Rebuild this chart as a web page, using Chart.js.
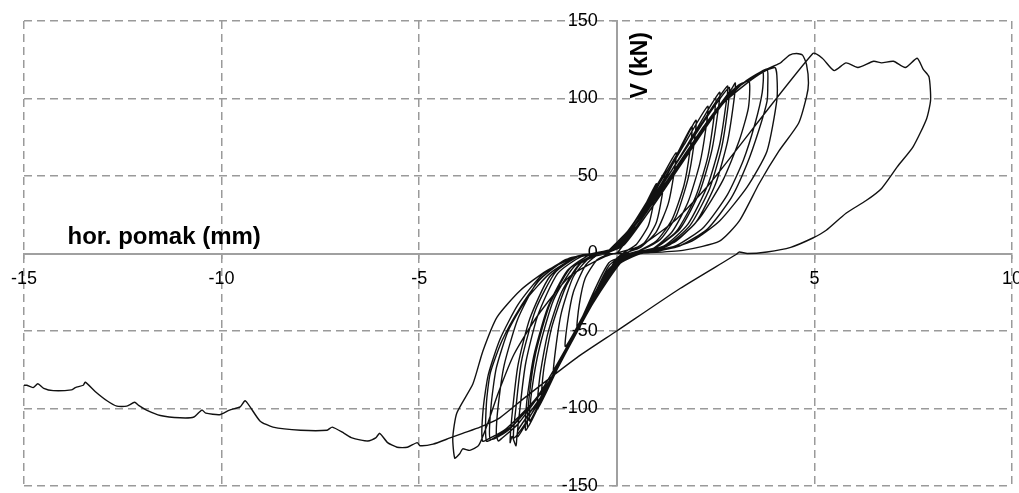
<!DOCTYPE html>
<html>
<head>
<meta charset="utf-8">
<script src="https://cdn.jsdelivr.net/npm/chart.js@4.4.1/dist/chart.umd.min.js"></script>
<style>
  html, body { margin: 0; padding: 0; background: #fff; }
  #wrap { width: 1019px; height: 493px; position: relative; }
</style>
</head>
<body>
<div id="wrap"><canvas id="hist"></canvas></div>
<script>
// hor. pomak (mm) / V (kN) pairs, in loading order
const cyclesSmall = [
  [0,0],[0.3,10],[0.6,25],[1.0,45],[0.95,35],[0.8,18],[0.5,6],[0.2,1],[0,-3],[-0.4,-20],[-0.8,-38],[-1.3,-60],[-1.25,-45],[-1.1,-25],[-0.8,-8],[-0.5,-1],
  [0.1,5],[0.5,20],[0.9,37],[1.2,50],[1.15,38],[1.0,20],[0.7,7],[0.3,1],[0,-4],[-0.5,-24],[-1.0,-48],[-0.95,-33],[-0.8,-16],[-0.5,-4],[-0.2,0],
  [-0.2,2],[0.3,15],[0.8,35],[1.2,52],[1.5,65],[1.45,52],[1.3,32],[1.0,14],[0.6,4],[0.2,0],[-0.2,-8],[-0.6,-28],[-1.1,-52],[-1.6,-78],[-1.55,-62],[-1.4,-38],[-1.1,-15],[-0.7,-3],[-0.3,0],
  [0,5],[0.5,22],[1.0,42],[1.5,63],[1.9,82],[1.85,66],[1.7,44],[1.4,22],[1.0,8],[0.5,1],[0.1,-3],[-0.4,-20],[-0.9,-43],[-1.4,-68],[-1.9,-95],[-1.85,-75],[-1.65,-48],[-1.3,-22],[-0.9,-6],[-0.4,0],
  [0.1,6],[0.7,28],[1.3,52],[2.0,86],[1.95,70],[1.8,48],[1.5,24],[1.1,9],[0.6,2],[0.1,-2],[-0.5,-25],[-1.2,-58],[-2.0,-100],[-1.95,-80],[-1.75,-52],[-1.4,-25],[-0.95,-7],[-0.5,-1],
  [0.1,6],[0.6,24],[1.1,44],[1.7,70],[2.3,95],[2.25,80],[2.1,58],[1.8,33],[1.4,14],[0.9,3],[0.3,-1],[-0.2,-10],[-0.8,-38],[-1.5,-72],[-2.2,-108],[-2.15,-88],[-1.95,-60],[-1.6,-30],[-1.1,-9],[-0.6,-1],
  [0,4],[0.7,27],[1.5,58],[2.2,88],[2.5,100],[2.45,86],[2.3,62],[2.0,37],[1.5,14],[0.9,3],[0.3,-1],[-0.3,-14],[-1.0,-48],[-1.7,-84],[-2.3,-114],[-2.28,-96],[-2.1,-66],[-1.75,-35],[-1.25,-11],[-0.7,-1],
  [-0.1,2],[0.5,20],[1.2,46],[1.9,75],[2.6,104],[2.55,90],[2.4,66],[2.1,40],[1.6,16],[1.0,4],[0.4,0],[-0.2,-12],[-0.9,-44],[-1.6,-78],[-2.25,-112],[-2.22,-93],[-2.05,-64],[-1.7,-33],[-1.2,-10],[-0.7,-1]
];
const cyclesMedium = [
  [0,4],[0.6,24],[1.3,50],[2.1,82],[2.8,108],[2.75,94],[2.6,70],[2.3,44],[1.8,19],[1.2,5],[0.5,0],[-0.1,-10],[-0.8,-40],[-1.7,-82],[-2.5,-118],[-2.45,-100],[-2.3,-70],[-2.0,-40],[-1.5,-13],[-0.9,-2],
  [-0.1,3],[0.6,26],[1.4,54],[2.2,85],[2.7,103],[2.85,107],[2.8,92],[2.65,68],[2.35,42],[1.85,18],[1.2,4],[0.5,0],[-0.2,-12],[-1.0,-50],[-1.9,-93],[-2.6,-119],[-2.55,-99],[-2.4,-68],[-2.05,-36],[-1.55,-12],[-0.9,-1],
  [-0.2,1],[0.5,20],[1.3,48],[2.2,82],[2.9,106],[3.0,110],[2.95,96],[2.8,72],[2.5,45],[2.0,20],[1.3,5],[0.6,0],[0,-8],[-0.8,-40],[-1.8,-88],[-2.5,-114],[-2.55,-124],[-2.65,-118],[-2.7,-122],[-2.65,-104],[-2.5,-72],[-2.2,-42],[-1.7,-15],[-1.0,-2],
  [-0.3,0],[0.4,16],[1.2,44],[2.1,78],[2.8,102],[3.1,109],[3.35,111],[3.33,94],[3.1,73],[2.68,47],[2.1,23],[1.5,8],[0.8,1],[0.2,-3],[-0.6,-32],[-1.6,-78],[-2.5,-110],[-2.9,-119],[-3.0,-121],[-3.05,-116],[-3.0,-98],[-2.85,-72],[-2.5,-42],[-2.0,-18],[-1.3,-4],[-0.6,0]
];
const cyclesLarge = [
  [0.1,5],[0.9,32],[1.8,65],[2.6,95],[3.1,108],[3.5,115],[3.7,117],[3.68,104],[3.5,84],[3.2,60],[2.8,38],[2.2,17],[1.5,5],[0.8,1],[0.1,-3],[-0.8,-40],[-1.8,-86],[-2.7,-113],[-3.2,-120],[-3.18,-98],[-3.05,-74],[-2.75,-50],[-2.3,-30],[-1.7,-13],[-1.0,-2],[-0.4,0],
  [0,4],[0.8,30],[1.7,62],[2.5,92],[3.0,106],[3.4,113],[3.8,119],[3.82,108],[3.8,98],[3.6,80],[3.3,58],[2.9,36],[2.3,16],[1.6,5],[0.9,1],[0.2,-2],[-0.7,-36],[-1.7,-82],[-2.6,-110],[-3.1,-119],[-3.3,-121],[-3.3,-97],[-3.2,-77],[-2.9,-56],[-2.45,-35],[-1.95,-17],[-1.44,-6.5],[-0.93,-1.3],[-0.3,0],
  [0.2,6],[1.0,34],[1.9,68],[2.7,97],[3.3,110],[3.7,117],[4.0,120],[4.05,115],[4.05,99],[3.8,66],[3.3,43],[2.6,21],[1.9,8],[1.26,3],[0.5,0],[-0.2,-6],[-1.0,-48],[-2.0,-92],[-2.8,-113],[-3.2,-119],[-3.4,-121],[-3.38,-100],[-3.25,-78],[-2.95,-55],[-2.5,-33],[-1.9,-14],[-1.2,-3],[-0.5,0]
];
const cycle5mm = [
  [0.1,4],[0.9,30],[1.8,64],[2.6,94],[3.2,110],[3.7,118],[4.12,122.6],[4.37,128],[4.55,129],[4.7,128],[4.8,122],[4.85,110],[4.8,101],[4.6,84],[4.1,66],[3.6,45],[3.1,21],[2.6,8],[1.67,2],[0.8,0.5],[0,0],
  [-0.93,-1.3],[-1.77,-11],[-2.45,-24],[-3.03,-41],[-3.39,-63],[-3.64,-84],[-4.05,-103],[-4.15,-119],[-4.1,-132],[-3.97,-129],[-3.9,-126],[-3.72,-127],[-3.5,-124],
  [-3.3,-112],[-3.0,-90],[-2.6,-65],[-2.0,-40],[-1.2,-15],[-0.3,-2],[0.6,5],[1.5,22],[2.35,45]
];
const pushPositive = [
  [4.96,129],[5.2,126],[5.5,118],[5.8,123],[6.1,120],[6.5,124],[6.7,123],[7.0,124],[7.3,120],[7.6,126],[7.75,119],[7.9,114],
  [7.94,99],[7.84,87],[7.5,69],[7.1,56],[6.7,42],[6.3,34],[5.8,26],[5.3,15],[4.96,10],[4.4,4],[3.8,1],[3.3,0],[3.1,1],[3.03,-0.5]
];
const pushNegative = [
  [1.6,-22.6],[0,-50],[-1.0,-67],[-2.28,-92],[-2.96,-106],[-3.46,-112],[-3.9,-116],[-4.22,-119],[-4.65,-123],[-4.98,-124],[-5.05,-122],
  [-5.3,-125],[-5.56,-125],[-5.8,-122],[-6.0,-116],[-6.1,-119],[-6.3,-121],[-6.7,-119],[-6.9,-116],[-7.2,-112],[-7.33,-114],[-8.0,-114],
  [-8.7,-112],[-9.03,-108],[-9.4,-95],[-9.53,-99],[-9.8,-101],[-10.05,-104],[-10.4,-103],[-10.5,-101],[-10.7,-105.5],[-11.05,-106],
  [-11.55,-104.5],[-11.9,-101],[-12.1,-98],[-12.2,-96],[-12.4,-98.5],[-12.65,-98.5],[-12.9,-95],[-13.2,-89],[-13.45,-83],[-13.5,-85],
  [-13.7,-86.5],[-13.8,-88],[-14.26,-88.5],[-14.5,-87],[-14.65,-84],[-14.77,-86.5],[-14.93,-85],[-15,-85]
];

const xTitle = "hor. pomak (mm)";
const yTitle = "V (kN)";

const history = [...cyclesSmall, ...cyclesMedium, ...cyclesLarge, ...cycle5mm, ...pushPositive, ...pushNegative]
  .map(([x, y]) => ({x: x, y: y}));

const gridGrey = "#9a9a9a";
const tickFont = { family: "'Liberation Sans', Arial, sans-serif", size: 18 };

// axis titles sit next to the crossing axes, not at the edges
const axisTitles = {
  id: "axisTitles",
  afterDatasetsDraw(chart) {
    const ctx = chart.ctx;
    const xs = chart.scales.x, ys = chart.scales.y;
    ctx.save();
    ctx.fillStyle = "#000";
    ctx.font = "bold 24px 'Liberation Sans', Arial, sans-serif";
    ctx.textBaseline = "alphabetic";
    ctx.textAlign = "left";
    ctx.fillText(xTitle, xs.getPixelForValue(-13.9), ys.getPixelForValue(0) - 10);
    ctx.font = "bold 23px 'Liberation Sans', Arial, sans-serif";
    ctx.translate(xs.getPixelForValue(0) + 30, ys.getPixelForValue(100));
    ctx.rotate(-Math.PI / 2);
    ctx.fillText(yTitle, 0, 0);
    ctx.restore();
  }
};

const zeroPad = (scale) => {
  scale.paddingLeft = 0; scale.paddingRight = 0;
  scale.paddingTop = 0; scale.paddingBottom = 0;
};

new Chart(document.getElementById("hist"), {
  type: "scatter",
  data: {
    datasets: [{
      data: history,
      showLine: true,
      borderColor: "#111",
      borderWidth: 1.4,
      pointRadius: 0,
      tension: 0.2,
      fill: false
    }]
  },
  options: {
    responsive: true,
    maintainAspectRatio: false,
    animation: false,
    layout: { padding: { left: 24, right: 7, top: 21, bottom: 7 } },
    plugins: { legend: { display: false }, tooltip: { enabled: false } },
    scales: {
      x: {
        type: "linear",
        position: { y: 0 },
        min: -15, max: 10,
        afterFit: zeroPad,
        ticks: {
          stepSize: 5,
          padding: 11,
          color: "#000",
          font: tickFont,
          maxRotation: 0,
          callback: (v) => (v === 0 ? "" : v)
        },
        grid: { color: gridGrey, lineWidth: 1.5, tickLength: 4, tickColor: gridGrey, tickWidth: 1.5 },
        border: { display: true, color: "#a0a0a0", width: 2, dash: [8, 5] }
      },
      y: {
        type: "linear",
        position: { x: 0 },
        min: -150, max: 150,
        afterFit: zeroPad,
        ticks: { stepSize: 50, display: false },
        grid: { color: gridGrey, lineWidth: 1.5, tickLength: 4, tickColor: gridGrey, tickWidth: 1.5 },
        border: { display: true, color: "#a0a0a0", width: 2, dash: [8, 5] }
      },
      // same range, only carries the V labels a little left of the axis
      yLab: {
        type: "linear",
        axis: "y",
        position: { x: -0.48 },
        min: -150, max: 150,
        afterFit: zeroPad,
        ticks: { stepSize: 50, color: "#000", font: tickFont },
        grid: { display: false },
        border: { display: false }
      }
    }
  },
  plugins: [axisTitles]
});
</script>
</body>
</html>
